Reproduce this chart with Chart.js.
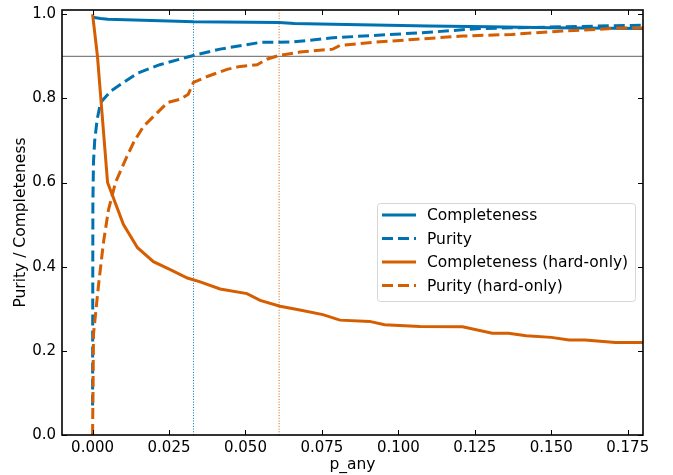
<!DOCTYPE html>
<html>
<head>
<meta charset="utf-8">
<script src="https://cdn.jsdelivr.net/npm/chart.js@4.4.1/dist/chart.umd.min.js"></script>
<style>
  html, body { margin: 0; padding: 0; background: #fff; }
  #wrap { width: 673px; height: 475px; position: relative; }
</style>
</head>
<body>
<div id="wrap"><canvas id="chart"></canvas></div>
<script>
// curves
const complX = [0, 0.0026, 0.005, 0.025, 0.033, 0.061, 0.066, 0.0786, 0.110, 0.130, 0.150, 0.180];
const complY = [0.993, 0.990, 0.988, 0.984, 0.982, 0.980, 0.978, 0.976, 0.972, 0.970, 0.968, 0.966];

const purX = [0, 0.00005, 0.0001, 0.0003, 0.0007, 0.0015, 0.0026, 0.0059, 0.0091, 0.0147, 0.022, 0.033, 0.0417, 0.0548, 0.0655, 0.0786, 0.110, 0.1265, 0.180];
const purY = [0.07, 0.30, 0.55, 0.65, 0.70, 0.75, 0.79, 0.817, 0.833, 0.86, 0.88, 0.902, 0.917, 0.933, 0.934, 0.944, 0.957, 0.966, 0.974];

const hardComplX = [0, 0.0016, 0.0049, 0.0101, 0.0147, 0.0199, 0.0254, 0.031, 0.0352, 0.0417, 0.0505, 0.0548, 0.0613, 0.0678, 0.0753, 0.0809, 0.0906, 0.0955, 0.107, 0.121, 0.1307, 0.136, 0.1418, 0.150, 0.1558, 0.161, 0.171, 0.180];
const hardComplY = [1.0, 0.90, 0.60, 0.50, 0.445, 0.412, 0.393, 0.373, 0.364, 0.347, 0.336, 0.32, 0.306, 0.297, 0.286, 0.273, 0.27, 0.262, 0.258, 0.257, 0.242, 0.242, 0.236, 0.232, 0.226, 0.226, 0.22, 0.22];

const hardPurX = [0, 0.0003, 0.002, 0.0036, 0.0052, 0.0075, 0.0108, 0.0134, 0.0166, 0.0199, 0.0245, 0.0287, 0.0313, 0.033, 0.0375, 0.044, 0.0483, 0.0538, 0.057, 0.061, 0.0678, 0.0786, 0.0809, 0.0916, 0.1047, 0.121, 0.137, 0.1536, 0.1647, 0.172, 0.180];
const hardPurY = [0.0, 0.24, 0.36, 0.46, 0.535, 0.60, 0.655, 0.695, 0.733, 0.757, 0.79, 0.798, 0.81, 0.838, 0.852, 0.869, 0.876, 0.88, 0.893, 0.902, 0.91, 0.917, 0.926, 0.933, 0.94, 0.948, 0.952, 0.96, 0.964, 0.967, 0.967];

// thresholds
const purityTarget = 0.9;
const cutAll = 0.033;
const cutHard = 0.061;

// axes
const xMin = -0.01, xMax = 0.18;
const yMin = 0, yMax = 1.01;
const xTicks = [0, 0.025, 0.05, 0.075, 0.1, 0.125, 0.15, 0.175];
const yTicks = [0, 0.2, 0.4, 0.6, 0.8, 1.0];

const BLUE = '#0072B2';
const ORANGE = '#D55E00';
const FONT = 'DejaVu Sans';

const pts = (xs, ys) => xs.map((x, i) => ({ x: x, y: ys[i] }));

function curve(label, xs, ys, color, dashed, order) {
    return {
        label: label,
        data: pts(xs, ys),
        borderColor: color,
        backgroundColor: color,
        borderWidth: 3,
        borderDash: dashed ? [11, 5] : [],
        pointRadius: 0,
        tension: 0,
        fill: false,
        order: order,
        inLegend: true
    };
}

function refLine(data, color, width, dash) {
    return {
        label: '',
        data: data,
        borderColor: color,
        borderWidth: width,
        borderDash: dash,
        pointRadius: 0,
        fill: false,
        order: 10
    };
}

// box + inward ticks on all four sides
const framePlugin = {
    id: 'frame',
    afterDatasetsDraw(chart) {
        const { ctx, chartArea: a, scales } = chart;
        ctx.save();
        ctx.strokeStyle = '#000';
        ctx.lineWidth = 1;
        const len = 5;
        ctx.beginPath();
        scales.x.ticks.forEach(t => {
            const px = Math.round(scales.x.getPixelForValue(t.value)) + 0.5;
            ctx.moveTo(px, a.bottom); ctx.lineTo(px, a.bottom - len);
            ctx.moveTo(px, a.top); ctx.lineTo(px, a.top + len);
        });
        scales.y.ticks.forEach(t => {
            const py = Math.round(scales.y.getPixelForValue(t.value)) + 0.5;
            ctx.moveTo(a.left, py); ctx.lineTo(a.left + len, py);
            ctx.moveTo(a.right, py); ctx.lineTo(a.right - len, py);
        });
        ctx.stroke();
        ctx.lineWidth = 1.6;
        ctx.strokeRect(a.left, a.top, a.right - a.left, a.bottom - a.top);
        ctx.restore();
    }
};

// legend inside the plot, lower right
const legendPlugin = {
    id: 'innerLegend',
    afterDraw(chart) {
        const { ctx, chartArea: a } = chart;
        const items = chart.data.datasets.filter(d => d.inLegend);
        const boxW = 258, rowH = 23.5, boxH = items.length * rowH + 4;
        const bx = a.right - 8 - boxW, by = 203;
        ctx.save();
        ctx.fillStyle = 'rgba(255,255,255,0.8)';
        ctx.strokeStyle = '#d6d6d6';
        ctx.lineWidth = 1;
        ctx.beginPath();
        ctx.roundRect(bx + 0.5, by + 0.5, boxW, boxH, 3);
        ctx.fill();
        ctx.stroke();
        ctx.font = '15.5px "' + FONT + '"';
        ctx.textBaseline = 'middle';
        items.forEach((d, i) => {
            const cy = by + 12 + i * rowH;
            ctx.strokeStyle = d.borderColor;
            ctx.lineWidth = 3;
            ctx.setLineDash(d.borderDash.length ? [11, 5] : []);
            ctx.beginPath();
            ctx.moveTo(bx + 5, cy);
            ctx.lineTo(bx + 39, cy);
            ctx.stroke();
            ctx.setLineDash([]);
            ctx.fillStyle = '#000';
            ctx.fillText(d.label, bx + 50, cy + 1);
        });
        ctx.restore();
    }
};

const ctx = document.getElementById('chart').getContext('2d');
new Chart(ctx, {
    type: 'line',
    data: {
        datasets: [
            curve('Completeness', complX, complY, BLUE, false, 4),
            curve('Purity', purX, purY, BLUE, true, 3),
            curve('Completeness (hard-only)', hardComplX, hardComplY, ORANGE, false, 2),
            curve('Purity (hard-only)', hardPurX, hardPurY, ORANGE, true, 1),
            refLine([{ x: xMin, y: purityTarget }, { x: xMax, y: purityTarget }], '#808080', 1.3, []),
            refLine([{ x: cutAll, y: yMin }, { x: cutAll, y: yMax }], BLUE, 1, [1, 1.7]),
            refLine([{ x: cutHard, y: yMin }, { x: cutHard, y: yMax }], ORANGE, 1, [1, 1.7])
        ]
    },
    options: {
        responsive: true,
        maintainAspectRatio: false,
        animation: false,
        layout: { padding: { top: 10, right: 30, left: 0, bottom: 0 } },
        plugins: {
            legend: { display: false },
            tooltip: { enabled: false }
        },
        scales: {
            x: {
                type: 'linear',
                min: xMin,
                max: xMax,
                grid: { display: false, drawTicks: false },
                border: { display: false },
                afterBuildTicks: s => { s.ticks = xTicks.map(v => ({ value: v })); },
                afterFit: s => { s.height = 40; s.paddingLeft = 0; s.paddingRight = 0; },
                ticks: {
                    color: '#000',
                    padding: 4,
                    font: { family: FONT, size: 15 },
                    maxRotation: 0,
                    callback: v => v.toFixed(3)
                },
                title: {
                    display: true,
                    text: 'p_any',
                    color: '#000',
                    font: { family: FONT, size: 15.5 },
                    padding: { top: 0, bottom: 1 }
                }
            },
            y: {
                type: 'linear',
                min: yMin,
                max: yMax,
                grid: { display: false, drawTicks: false },
                border: { display: false },
                afterBuildTicks: s => { s.ticks = yTicks.map(v => ({ value: v })); },
                afterFit: s => { s.width = 62; s.paddingTop = 0; s.paddingBottom = 0; },
                ticks: {
                    color: '#000',
                    padding: 6,
                    font: { family: FONT, size: 15 },
                    callback: v => v.toFixed(1)
                },
                title: {
                    display: true,
                    text: 'Purity / Completeness',
                    color: '#000',
                    font: { family: FONT, size: 15.5 },
                    padding: { top: 12, bottom: 0 }
                }
            }
        }
    },
    plugins: [framePlugin, legendPlugin]
});
</script>
</body>
</html>
